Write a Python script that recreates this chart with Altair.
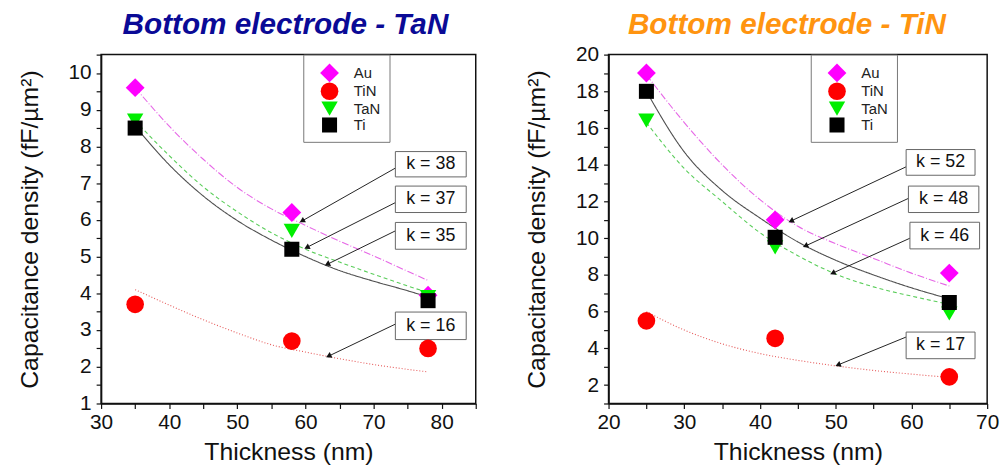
import math
import altair as alt
import pandas as pd

FONT = "Liberation Sans"

# ---------------- data ----------------
series = ["Au", "TiN", "TaN", "Ti"]
fit_names = ["Au fit", "TiN fit", "TaN fit", "Ti fit"]
point_colors = ["#FF00FF", "#FF0000", "#00EE00", "#000000"]
line_colors = ["#E040E0", "#E03030", "#30C030", "#222222"]
shapes = ["diamond", "circle", "triangle-down", "square"]
sizes = [360, 230, 290, 220]
dashes = [[7, 2, 1, 2], [1, 2], [4, 3], [1, 0]]

# Left panel: bottom electrode TaN
thick_L = [35, 58, 78]
au_L = [9.6, 6.2, 3.95]
tin_L = [3.7, 2.7, 2.5]
tan_L = [8.7, 5.7, 3.9]
ti_L = [8.5, 5.2, 3.8]

fit_t_L = [35, 40, 45, 50, 55, 60, 65, 70, 75, 78]
fit_au_L = [9.6, 8.55, 7.65, 6.88, 6.3, 5.85, 5.42, 5.02, 4.6, 4.35]
fit_tin_L = [4.1, 3.68, 3.28, 2.92, 2.6, 2.4, 2.22, 2.06, 1.93, 1.86]
fit_tan_L = [8.7, 7.75, 6.9, 6.22, 5.65, 5.2, 4.85, 4.52, 4.2, 4.02]
fit_ti_L = [8.55, 7.5, 6.65, 5.98, 5.45, 5.0, 4.62, 4.33, 4.07, 3.9]

ann_text_L = ["k = 38", "k = 37", "k = 35", "k = 16"]
box_x1_L = [73.2, 73.2, 73.2, 73.2]
box_x2_L = [83.6, 83.6, 83.6, 83.6]
box_y1_L = [7.17, 6.20, 5.20, 2.74]
box_y2_L = [7.86, 6.92, 5.93, 3.49]
arr_x1_L = [73.2, 73.2, 73.2, 73.3]
arr_y1_L = [7.41, 6.47, 5.70, 3.17]
arr_x2_L = [59.5, 60.2, 63.2, 63.4]
arr_y2_L = [5.97, 5.25, 4.79, 2.29]

# Right panel: bottom electrode TiN
thick_R = [25, 42, 65]
au_R = [19.0, 11.0, 8.1]
tin_R = [5.5, 4.55, 2.45]
tan_R = [16.4, 9.5, 5.9]
ti_R = [18.0, 10.05, 6.5]

fit_t_R = [25, 30, 35, 40, 45, 50, 55, 60, 65]
fit_au_R = [18.9, 16.3, 14.0, 12.1, 10.65, 9.7, 8.9, 8.1, 7.4]
fit_tin_R = [6.0, 5.0, 4.25, 3.72, 3.35, 3.05, 2.8, 2.6, 2.42]
fit_tan_R = [16.3, 13.8, 12.0, 10.3, 9.05, 8.05, 7.35, 6.85, 6.4]
fit_ti_R = [18.0, 14.7, 12.6, 11.1, 9.8, 8.8, 8.0, 7.3, 6.7]

ann_text_R = ["k = 52", "k = 48", "k = 46", "k = 17"]
box_x1_R = [59.3, 59.6, 59.8, 59.3]
box_x2_R = [68.4, 68.9, 69.0, 68.4]
box_y1_R = [13.43, 11.40, 9.42, 3.44]
box_y2_R = [14.83, 12.84, 10.87, 4.89]
arr_x1_R = [59.3, 59.6, 59.8, 59.3]
arr_y1_R = [13.89, 12.17, 10.0, 4.62]
arr_x2_R = [44.1, 46.0, 49.6, 50.3]
arr_y2_R = [10.94, 9.58, 8.1, 3.1]

W_L, W_R, H = 378, 382, 352


def build_rows(names, t, au, tin, tan, ti):
    rows = []
    for s, vals in zip(names, [au, tin, tan, ti]):
        for x, y in zip(t, vals):
            rows.append({"series": s, "t": x, "v": y})
    return pd.DataFrame(rows)


def panel(pts, fits, texts, bx1, bx2, by1, by2, ax1, ay1, ax2, ay2,
          xdom, xvals, ydom, yvals, ylabel_mod, title, title_color, width, title_dx):
    sx = width / (xdom[1] - xdom[0])
    sy = H / (ydom[1] - ydom[0])
    ann = pd.DataFrame({
        "text": texts,
        "x1": bx1, "x2": bx2, "y1": by1, "y2": by2,
        "tx": [(a + b) / 2 for a, b in zip(bx1, bx2)],
        "ty": [(a + b) / 2 for a, b in zip(by1, by2)],
    })
    angles = []
    for x1, y1, x2, y2 in zip(ax1, ay1, ax2, ay2):
        dx = (x2 - x1) * sx
        dy = -(y2 - y1) * sy
        angles.append(math.degrees(math.atan2(dx, -dy)) % 360)
    arr = pd.DataFrame({"x1": ax1, "y1": ay1, "x2": ax2, "y2": ay2, "angle": angles})

    xscale = alt.Scale(domain=xdom, nice=False, zero=False)
    yscale = alt.Scale(domain=ydom, nice=False, zero=False)
    xaxis = alt.Axis(values=xvals, title="Thickness (nm)",
                     labelExpr="datum.value % 10 == 0 ? format(datum.value, 'd') : ''",
                     labelOverlap=False, labelFlush=False, titlePadding=8)
    yaxis = alt.Axis(values=yvals, title="Capacitance density (fF/\u00b5m\u00b2)",
                     labelExpr=f"datum.value % {ylabel_mod} == 0 ? format(datum.value, 'd') : ''",
                     labelOverlap=False, labelFlush=False, titlePadding=26, labelPadding=5)

    legend = alt.Legend(orient="none", legendX=204, legendY=0, title=None,
                        labelFont=FONT, labelFontSize=15, labelColor="#222",
                        fillColor="white", strokeColor="#777",
                        padding=9, rowPadding=0, labelOffset=15, symbolOffset=8,
                        symbolStrokeWidth=0)

    lines = alt.Chart(fits).mark_line(strokeWidth=1.1, opacity=0.8,
                                      interpolate="monotone").encode(
        x=alt.X("t:Q", scale=xscale, axis=xaxis),
        y=alt.Y("v:Q", scale=yscale, axis=yaxis),
        stroke=alt.Stroke("series:N", scale=alt.Scale(domain=fit_names, range=line_colors), legend=None),
        strokeDash=alt.StrokeDash("series:N", scale=alt.Scale(domain=fit_names, range=dashes), legend=None),
        detail="series:N",
    )
    points = alt.Chart(pts).mark_point(filled=True, opacity=1).encode(
        x=alt.X("t:Q", scale=xscale, axis=xaxis),
        y=alt.Y("v:Q", scale=yscale, axis=yaxis),
        color=alt.Color("series:N", scale=alt.Scale(domain=series, range=point_colors),
                        legend=legend, sort=series),
        shape=alt.Shape("series:N", scale=alt.Scale(domain=series, range=shapes),
                        legend=legend, sort=series),
        size=alt.Size("series:N", scale=alt.Scale(domain=series, range=sizes),
                      legend=legend, sort=series),
    )
    rules = alt.Chart(arr).mark_rule(color="#222", strokeWidth=1).encode(
        x=alt.X("x1:Q", scale=xscale, axis=xaxis), y=alt.Y("y1:Q", scale=yscale, axis=yaxis),
        x2="x2:Q", y2="y2:Q",
    )
    heads = alt.Chart(arr).mark_point(shape="triangle-up", filled=True, color="#111",
                                      size=40, opacity=1).encode(
        x=alt.X("x2:Q", scale=xscale, axis=xaxis), y=alt.Y("y2:Q", scale=yscale, axis=yaxis),
        angle=alt.Angle("angle:Q", scale=None),
    )
    boxes = alt.Chart(ann).mark_rect(fill="white", stroke="#666", strokeWidth=1).encode(
        x=alt.X("x1:Q", scale=xscale, axis=xaxis), x2="x2:Q",
        y=alt.Y("y1:Q", scale=yscale, axis=yaxis), y2="y2:Q",
    )
    labels = alt.Chart(ann).mark_text(font=FONT, fontSize=18, color="#111",
                                      align="center", baseline="middle").encode(
        x=alt.X("tx:Q", scale=xscale, axis=xaxis), y=alt.Y("ty:Q", scale=yscale, axis=yaxis),
        text="text:N",
    )
    return alt.layer(lines, rules, heads, boxes, labels, points).properties(
        width=width, height=H,
        title=alt.TitleParams(title, color=title_color, font=FONT, fontSize=30,
                              fontWeight="bold", fontStyle="italic", frame="group",
                              anchor="middle", offset=4, dx=title_dx),
    )


left = panel(build_rows(series, thick_L, au_L, tin_L, tan_L, ti_L),
             build_rows(fit_names, fit_t_L, fit_au_L, fit_tin_L, fit_tan_L, fit_ti_L),
             ann_text_L, box_x1_L, box_x2_L, box_y1_L, box_y2_L,
             arr_x1_L, arr_y1_L, arr_x2_L, arr_y2_L,
             [30, 85], [30, 35, 40, 45, 50, 55, 60, 65, 70, 75, 80, 85],
             [1, 10.5], [1 + 0.5 * i for i in range(20)], 1,
             "Bottom electrode - TaN", "#0A0A96", W_L, -3)

right = panel(build_rows(series, thick_R, au_R, tin_R, tan_R, ti_R),
              build_rows(fit_names, fit_t_R, fit_au_R, fit_tin_R, fit_tan_R, fit_ti_R),
              ann_text_R, box_x1_R, box_x2_R, box_y1_R, box_y2_R,
              arr_x1_R, arr_y1_R, arr_x2_R, arr_y2_R,
              [20, 70], [20, 25, 30, 35, 40, 45, 50, 55, 60, 65, 70],
              [1, 20], list(range(1, 21)), 2,
              "Bottom electrode - TiN", "#FF9410", W_R, -11)

chart = alt.hconcat(left, right, spacing=46).resolve_scale(
    x="independent", y="independent", color="independent", shape="independent",
    size="independent", strokeDash="independent", stroke="independent",
).resolve_legend(color="independent", shape="independent", size="independent").properties(
    padding={"left": 16, "top": 7, "right": 5, "bottom": 2},
    background="white",
).configure_view(stroke="#111", strokeWidth=1.5).configure_axis(
    labelFont=FONT, titleFont=FONT, labelFontSize=21, titleFontSize=25,
    labelColor="#111", titleColor="#111", titleFontWeight="normal",
    tickColor="#111", tickSize=5, tickWidth=1.2, labelPadding=3,
    domainColor="#111", domainWidth=1.5, grid=False,
    labelOverlap=False, labelFlush=False,
)

chart.save("out.html", embed_options={"renderer": "svg", "actions": False})
